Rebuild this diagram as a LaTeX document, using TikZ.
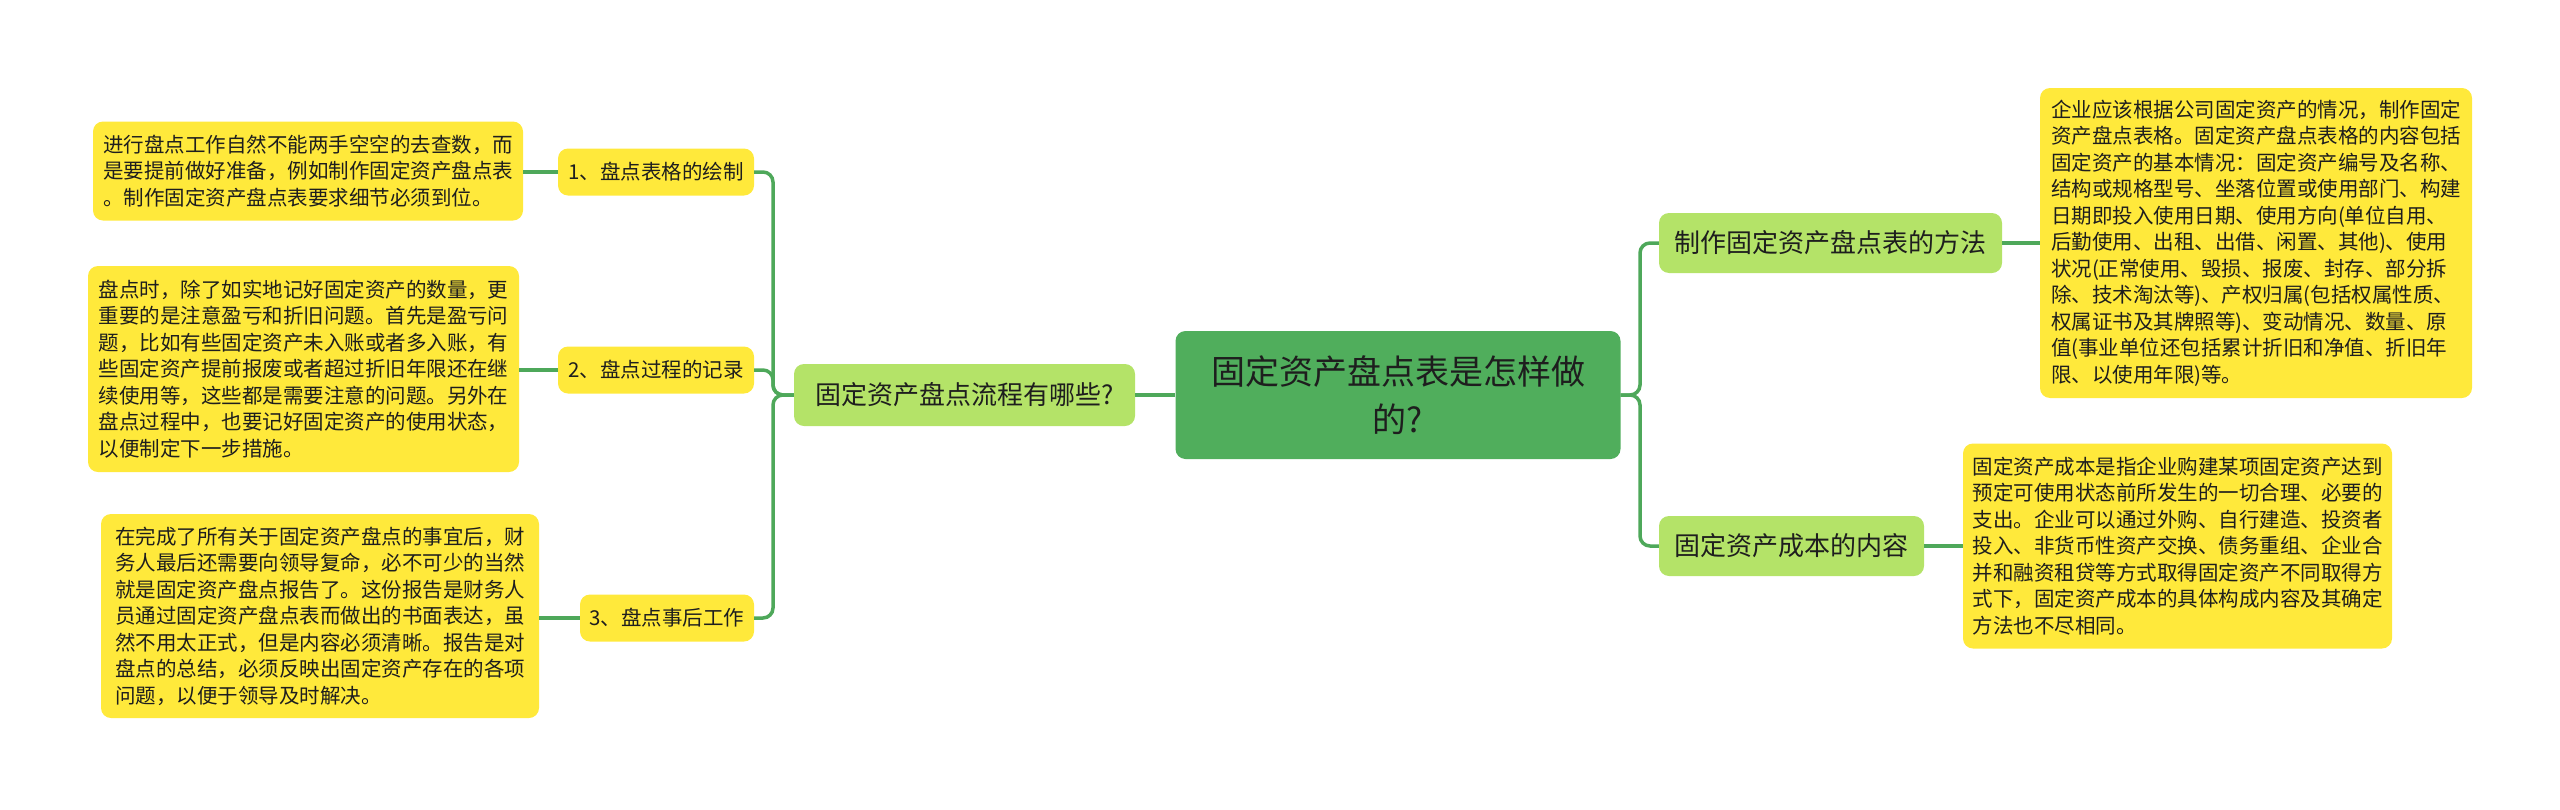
\documentclass[tikz,border=0pt]{standalone}
\usepackage{fontspec}
\setmainfont{Noto Sans CJK SC}
\definecolor{yel}{RGB}{255,233,59}
\definecolor{lgreen}{RGB}{180,227,104}
\definecolor{cgreen}{RGB}{80,174,92}
\definecolor{lineg}{RGB}{78,168,90}
\definecolor{txt}{RGB}{30,30,30}
\tikzset{
  box/.style={rectangle, rounded corners=10pt, inner sep=0pt, text=txt, align=left},
  leafbox/.style={box, fill=yel, font=\fontsize{20.5}{26.5}\selectfont},
  subbox/.style={box, fill=yel, align=center, font=\fontsize{20.5}{24}\selectfont},
  mainbox/.style={box, fill=lgreen, align=center, font=\fontsize{26}{32}\selectfont},
  centbox/.style={box, fill=cgreen, align=center, font=\fontsize{34}{48}\selectfont},
  conn/.style={draw=lineg, line width=3.5pt, rounded corners=10pt},
}
\begin{document}
\begin{tikzpicture}[x=1pt,y=-1pt]
\useasboundingbox (0,0) rectangle (2560,809);
% central
\node[centbox, minimum width=445pt, minimum height=128pt] (c) at (1398,395) {固定资产盘点表是怎样做\\的?};
% main nodes
\node[mainbox, minimum width=341pt, minimum height=62pt] (lm) at (964.5,395) {固定资产盘点流程有哪些?};
\node[mainbox, minimum width=343pt, minimum height=60pt] (rm1) at (1830.5,243) {制作固定资产盘点表的方法};
\node[mainbox, minimum width=265pt, minimum height=60pt] (rm2) at (1791.5,546) {固定资产成本的内容};
% sub nodes
\node[subbox, minimum width=196pt, minimum height=47pt] (n1) at (656,172) {1、盘点表格的绘制};
\node[subbox, minimum width=196pt, minimum height=47pt] (n2) at (656,370) {2、盘点过程的记录};
\node[subbox, minimum width=174pt, minimum height=47pt] (n3) at (667,618) {3、盘点事后工作};
% leaves
\node[leafbox, minimum width=430pt, minimum height=99pt] (l1) at (308,171) {进行盘点工作自然不能两手空空的去查数，而\\是要提前做好准备，例如制作固定资产盘点表\\。制作固定资产盘点表要求细节必须到位。};
\node[leafbox, minimum width=431pt, minimum height=206pt] (l2) at (303.5,369) {盘点时，除了如实地记好固定资产的数量，更\\重要的是注意盈亏和折旧问题。首先是盈亏问\\题，比如有些固定资产未入账或者多入账，有\\些固定资产提前报废或者超过折旧年限还在继\\续使用等，这些都是需要注意的问题。另外在\\盘点过程中，也要记好固定资产的使用状态，\\以便制定下一步措施。};
\node[leafbox, minimum width=438pt, minimum height=204pt] (l3) at (320,616) {在完成了所有关于固定资产盘点的事宜后，财\\务人最后还需要向领导复命，必不可少的当然\\就是固定资产盘点报告了。这份报告是财务人\\员通过固定资产盘点表而做出的书面表达，虽\\然不用太正式，但是内容必须清晰。报告是对\\盘点的总结，必须反映出固定资产存在的各项\\问题，以便于领导及时解决。};
\node[leafbox, minimum width=432pt, minimum height=310pt] (r1) at (2256,243) {企业应该根据公司固定资产的情况，制作固定\\资产盘点表格。固定资产盘点表格的内容包括\\固定资产的基本情况：固定资产编号及名称、\\结构或规格型号、坐落位置或使用部门、构建\\日期即投入使用日期、使用方向(单位自用、\\后勤使用、出租、出借、闲置、其他)、使用\\状况(正常使用、毁损、报废、封存、部分拆\\除、技术淘汰等)、产权归属(包括权属性质、\\权属证书及其牌照等)、变动情况、数量、原\\值(事业单位还包括累计折旧和净值、折旧年\\限、以使用年限)等。};
\node[leafbox, minimum width=429pt, minimum height=205pt] (r2) at (2177.5,546) {固定资产成本是指企业购建某项固定资产达到\\预定可使用状态前所发生的一切合理、必要的\\支出。企业可以通过外购、自行建造、投资者\\投入、非货币性资产交换、债务重组、企业合\\并和融资租贷等方式取得固定资产不同取得方\\式下，固定资产成本的具体构成内容及其确定\\方法也不尽相同。};
% connectors
\coordinate (lt) at (773,395);
\coordinate (rt) at (1640,395);
\draw[conn] (c.west) -- (lm.east);
\draw[conn] (lm.west) -- (lt) |- (n1.east);
\draw[conn] (lm.west) -- (lt) |- (n2.east);
\draw[conn] (lm.west) -- (lt) |- (n3.east);
\draw[conn] (c.east) -- (rt) |- (rm1.west);
\draw[conn] (c.east) -- (rt) |- (rm2.west);
\draw[conn] (n1.west) -- (l1.east |- n1.west);
\draw[conn] (n2.west) -- (l2.east |- n2.west);
\draw[conn] (n3.west) -- (l3.east |- n3.west);
\draw[conn] (rm1.east) -- (r1.west |- rm1.east);
\draw[conn] (rm2.east) -- (r2.west |- rm2.east);
\end{tikzpicture}
\end{document}
